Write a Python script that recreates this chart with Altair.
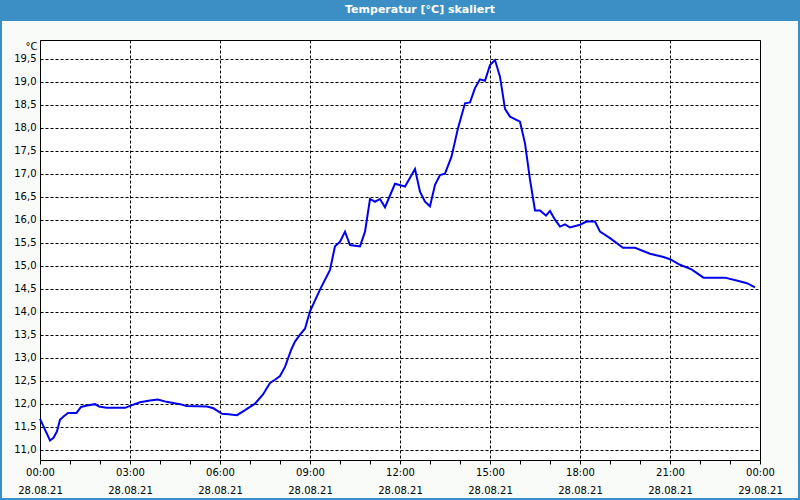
import altair as alt
import pandas as pd

# ---- data ----
times = ["00:00", "00:20", "00:27", "00:34", "00:40", "00:47", "00:56", "01:13", "01:22", "01:34",
         "01:50", "01:58", "02:13", "02:50", "03:04", "03:20", "03:40", "03:56", "04:13", "04:40",
         "04:53", "05:34", "05:47", "06:04", "06:17", "06:34", "06:47", "07:10", "07:26", "07:40",
         "07:50", "08:00", "08:10", "08:23", "08:30", "08:40", "08:50", "09:00", "09:20", "09:40",
         "09:50", "10:00", "10:10", "10:20", "10:40", "10:50", "11:00", "11:10", "11:20", "11:30",
         "11:50", "12:10", "12:30", "12:40", "12:50", "13:00", "13:10", "13:20", "13:30", "13:43",
         "13:56", "14:10", "14:20", "14:30", "14:40", "14:50", "15:00", "15:10", "15:20", "15:30",
         "15:40", "16:00", "16:10", "16:20", "16:30", "16:40", "16:52", "17:00", "17:10", "17:20",
         "17:30", "17:40", "18:00", "18:13", "18:30", "18:40", "19:00", "19:26", "19:50", "20:20",
         "20:47", "21:00", "21:20", "21:43", "22:07", "22:50", "23:13", "23:34", "23:50"]
temps = [11.67, 11.20, 11.26, 11.40, 11.65, 11.72, 11.80, 11.80, 11.93, 11.96,
         11.99, 11.94, 11.91, 11.91, 11.97, 12.03, 12.07, 12.09, 12.04, 11.99,
         11.95, 11.94, 11.90, 11.78, 11.77, 11.75, 11.84, 12.00, 12.20, 12.45,
         12.52, 12.60, 12.80, 13.19, 13.35, 13.50, 13.63, 14.01, 14.48, 14.91,
         15.42, 15.52, 15.74, 15.45, 15.42, 15.74, 16.45, 16.39, 16.45, 16.27,
         16.78, 16.72, 17.10, 16.61, 16.39, 16.29, 16.76, 16.97, 17.00, 17.37,
         17.99, 18.53, 18.55, 18.86, 19.05, 19.02, 19.36, 19.47, 19.11, 18.41,
         18.24, 18.13, 17.66, 16.87, 16.20, 16.20, 16.09, 16.19, 16.00, 15.85,
         15.90, 15.83, 15.89, 15.96, 15.96, 15.74, 15.60, 15.39, 15.39, 15.26,
         15.19, 15.14, 15.02, 14.92, 14.74, 14.74, 14.68, 14.62, 14.53]
date = "2021-08-28"
y_ticks = [11.0, 11.5, 12.0, 12.5, 13.0, 13.5, 14.0, 14.5, 15.0, 15.5,
           16.0, 16.5, 17.0, 17.5, 18.0, 18.5, 19.0, 19.5]
title_text = "Temperatur [°C] skaliert"
unit_text = "°C"

df = pd.DataFrame({"time": [f"{date}T{t}:00Z" for t in times], "temp": temps})

FONT = "DejaVu Sans"
BLUE_FRAME = "#3c8fc4"

x_values = [alt.DateTime(year=2021, month=8, date=28, hours=h, utc=True) for h in range(24)] + \
           [alt.DateTime(year=2021, month=8, date=29, hours=0, utc=True)]
x_domain = [alt.DateTime(year=2021, month=8, date=28, hours=0, utc=True),
            alt.DateTime(year=2021, month=8, date=29, hours=0, utc=True)]

line = alt.Chart(df).mark_line(color="#0000ee", strokeWidth=2, interpolate="linear").encode(
    x=alt.X("time:T",
            scale=alt.Scale(type="utc", domain=x_domain, nice=False),
            axis=alt.Axis(values=x_values, title=None, domain=False,
                          tickSize=4, tickColor="black", tickWidth=1,
                          grid=True, gridColor="black", gridDash=[3, 2], gridWidth=1,
                          gridOpacity={"condition": {"test": "utchours(datum.value) % 3 == 0", "value": 1}, "value": 0},
                          labelExpr="utchours(datum.value) % 3 == 0 ? [utcFormat(datum.value, '%H:%M'), utcFormat(datum.value, '%d.%m.%y')] : ''",
                          labelFont=FONT, labelFontSize=10, labelColor="black",
                          labelLineHeight=18, labelPadding=3, labelOverlap=False,
                          labelFlush=False, labelBaseline="top")),
    y=alt.Y("temp:Q",
            scale=alt.Scale(domain=[10.776, 19.906], nice=False, zero=False),
            axis=alt.Axis(values=y_ticks, title=unit_text, titleAngle=0, titleX=-3, titleY=6,
                          titleAlign="right", titleBaseline="middle", titleFont=FONT,
                          titleFontSize=10, titleFontWeight="normal", titleColor="black",
                          domain=False, tickSize=0, labelPadding=4,
                          grid=True, gridColor="black", gridDash=[3, 2], gridWidth=1, gridOpacity=1,
                          labelExpr="replace(format(datum.value, '.1f'), '.', ',')",
                          labelFont=FONT, labelFontSize=10, labelColor="black")),
)

one = alt.Data(values=[{"title": title_text}])
title_bar = alt.Chart(one).mark_rect(color=BLUE_FRAME).encode(
    x=alt.value(-40), x2=alt.value(760), y=alt.value(-40), y2=alt.value(-19))
frame = alt.Chart(one).mark_rect(fill=None, stroke=BLUE_FRAME, strokeWidth=2).encode(
    x=alt.value(-39), x2=alt.value(759), y=alt.value(-39), y2=alt.value(459))
title_mark = alt.Chart(one).mark_text(color="white", font=FONT, fontSize=11, fontWeight="bold",
                                      align="center", baseline="middle").encode(
    text="title:N", x=alt.value(380), y=alt.value(-30))

chart = alt.layer(title_bar, frame, title_mark, line).properties(
    width=720, height=420,
    background="#f9fbf9",
    padding={"left": 40, "top": 40, "right": 40, "bottom": 40},
    autosize=alt.AutoSizeParams(type="none"),
).configure_view(stroke="black", strokeWidth=1, fill="white")

chart.save("out.html", embed_options={"renderer": "svg", "actions": False})
